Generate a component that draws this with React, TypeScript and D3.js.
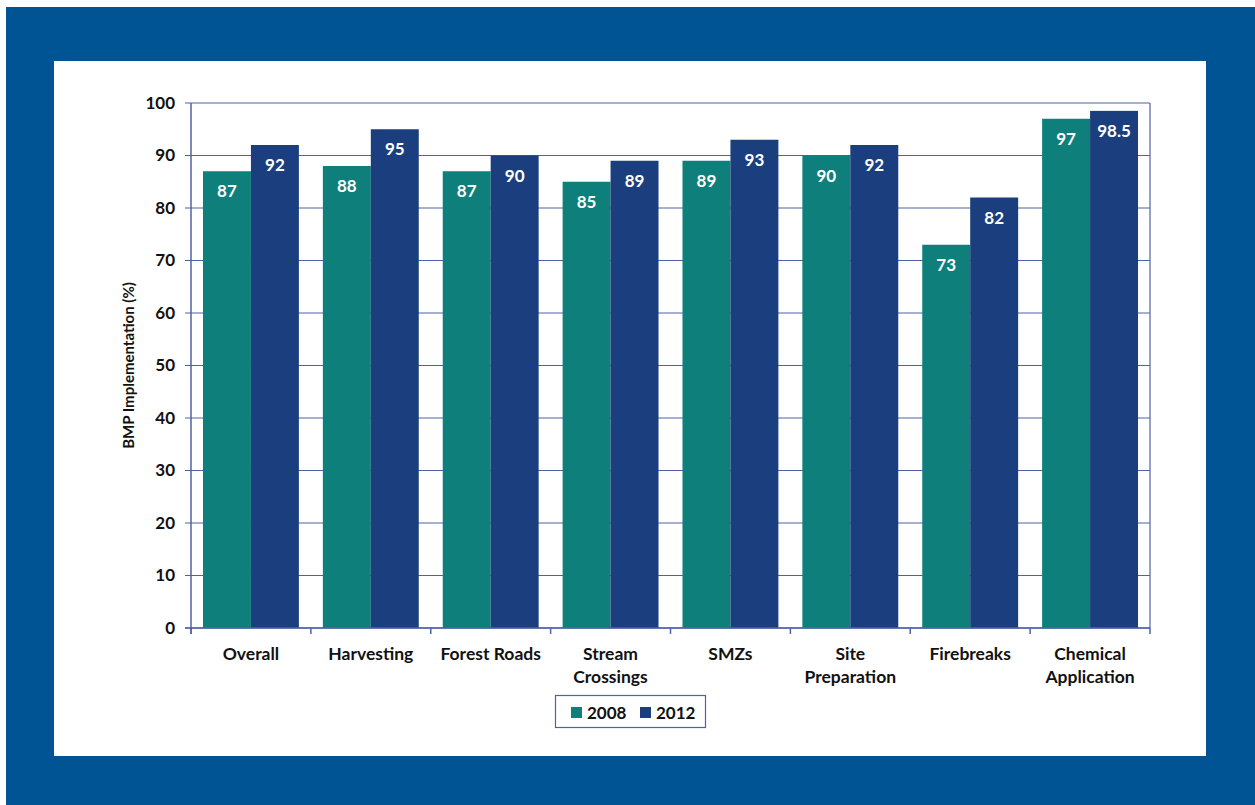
import React from "react";
import * as d3 from "d3";

const categories = [
  ["Overall"],
  ["Harvesting"],
  ["Forest Roads"],
  ["Stream", "Crossings"],
  ["SMZs"],
  ["Site", "Preparation"],
  ["Firebreaks"],
  ["Chemical", "Application"],
];
const series2008 = [87, 88, 87, 85, 89, 90, 73, 97];
const series2012 = [92, 95, 90, 89, 93, 92, 82, 98.5];
const seriesNames = ["2008", "2012"];
const yTicks = [0, 10, 20, 30, 40, 50, 60, 70, 80, 90, 100];

const colors = ["#0e7f7a", "#1b3f7e"];
const gridColor = "#4f62a8";
const font = "Lato, 'Open Sans', sans-serif";

export default function App() {
  const W = 1255, H = 805;
  const left = 191, right = 1150, top = 103, bottom = 628;
  const x = d3.scaleBand<number>().domain(d3.range(categories.length)).range([left, right]).paddingInner(0).paddingOuter(0);
  const y = d3.scaleLinear().domain([0, 100]).range([bottom, top]);
  const inner = d3.scaleBand<number>().domain([0, 1]).range([0, x.bandwidth()]).paddingOuter(0.25).paddingInner(0);
  const data = [series2008, series2012];

  return (
    <svg width={W} height={H} style={{ position: "absolute", left: 0, top: 0 }}>
      <rect x={0} y={0} width={W} height={H} fill="#ffffff" />
      <rect x={6} y={7} width={W - 6} height={H - 7} fill="#005493" />
      <rect x={54} y={61} width={1152} height={695} fill="#ffffff" />
      {yTicks.map((t) => (
        <g key={t}>
          <line x1={left - 6} x2={right} y1={y(t)} y2={y(t)} stroke={gridColor} strokeWidth={1.2} />
          <text x={left - 16} y={y(t)} dy="0.35em" textAnchor="end" fontFamily={font} fontWeight="bold" fontSize={17} fill="#111">
            {t}
          </text>
        </g>
      ))}
      <line x1={right} x2={right} y1={top} y2={bottom} stroke={gridColor} strokeWidth={1.2} />
      {data.map((vals, s) =>
        vals.map((v, i) => {
          const bx = (x(i) as number) + (inner(s) as number);
          const bw = inner.bandwidth();
          return (
            <g key={`${s}-${i}`}>
              <rect x={bx} y={y(v)} width={bw} height={y(0) - y(v)} fill={colors[s]} />
              <text x={bx + bw / 2} y={y(v) + 26} textAnchor="middle" fontFamily={font} fontWeight="bold" fontSize={17} fill="#ffffff">
                {v}
              </text>
            </g>
          );
        })
      )}
      <line x1={left} x2={left} y1={top} y2={bottom + 6} stroke={gridColor} strokeWidth={1.5} />
      <line x1={left - 6} x2={right} y1={bottom} y2={bottom} stroke={gridColor} strokeWidth={1.5} />
      {d3.range(categories.length + 1).map((i) => {
        const tx = left + i * x.bandwidth();
        return <line key={i} x1={tx} x2={tx} y1={bottom} y2={bottom + 6} stroke={gridColor} strokeWidth={1.5} />;
      })}
      {categories.map((lines, i) => (
        <text key={i} x={(x(i) as number) + x.bandwidth() / 2} y={660} textAnchor="middle" fontFamily={font} fontWeight="bold" fontSize={17.5} fill="#111">
          {lines.map((l, k) => (
            <tspan key={k} x={(x(i) as number) + x.bandwidth() / 2} dy={k === 0 ? 0 : 23}>
              {l}
            </tspan>
          ))}
        </text>
      ))}
      <text transform={`translate(134,${(top + bottom) / 2}) rotate(-90)`} textAnchor="middle" fontFamily={font} fontWeight="bold" fontSize={15} fill="#111">
        BMP Implementation (%)
      </text>
      <rect x={555.5} y={695.5} width={150} height={32} fill="#fff" stroke={gridColor} strokeWidth={1.2} />
      {seriesNames.map((n, s) => (
        <g key={n} transform={`translate(${571 + s * 69},707)`}>
          <rect x={0} y={0} width={11} height={11} fill={colors[s]} />
          <text x={16} y={6} dy="0.36em" fontFamily={font} fontWeight="bold" fontSize={17} fill="#111">
            {n}
          </text>
        </g>
      ))}
    </svg>
  );
}
